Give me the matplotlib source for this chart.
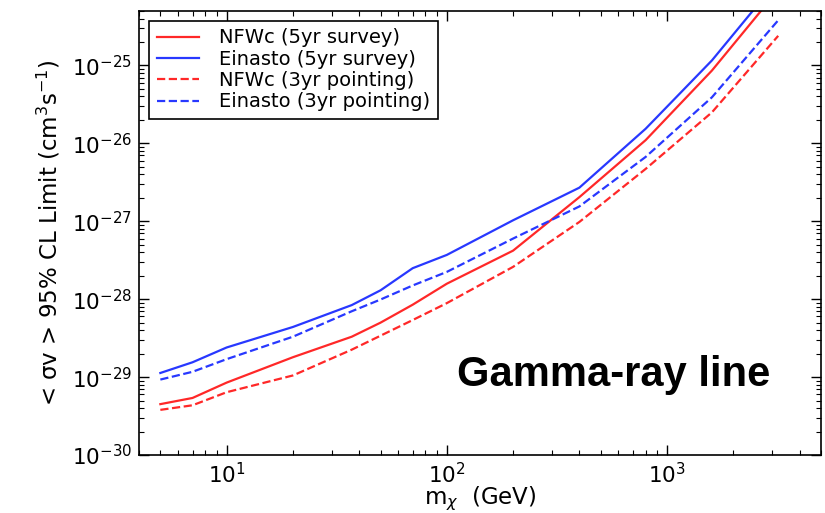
import matplotlib
matplotlib.use("Agg")
import matplotlib.pyplot as plt
import numpy as np

# dark matter mass grid (GeV)
mass = [5, 7, 10, 20, 37, 50, 70, 100, 200, 400, 800, 1600, 3200]

# 95% CL upper limits on <sigma v> (cm^3 s^-1)
nfwc_survey = [4.5e-30, 5.4e-30, 8.5e-30, 1.8e-29, 3.3e-29, 5.0e-29, 8.5e-29,
               1.58e-28, 4.2e-28, 2.04e-27, 1.1e-26, 8.6e-26, 9.3e-25]
einasto_survey = [1.13e-29, 1.55e-29, 2.4e-29, 4.4e-29, 8.4e-29, 1.3e-28, 2.5e-28,
                  3.7e-28, 1.03e-27, 2.7e-27, 1.54e-26, 1.16e-25, 1.25e-24]
nfwc_pointing = [3.8e-30, 4.35e-30, 6.4e-30, 1.05e-29, 2.25e-29, 3.4e-29, 5.4e-29,
                 8.9e-29, 2.6e-28, 9.8e-28, 4.7e-27, 2.5e-26, 2.4e-25]
einasto_pointing = [9.3e-30, 1.17e-29, 1.7e-29, 3.3e-29, 7.0e-29, 9.9e-29, 1.5e-28,
                    2.24e-28, 6.0e-28, 1.55e-27, 6.7e-27, 3.9e-26, 3.8e-25]

plt.rcParams['font.family'] = ['DejaVu Sans']
plt.rcParams['mathtext.fontset'] = 'dejavusans'

fig = plt.figure(figsize=(8.25, 5.13), dpi=100)
ax = fig.add_axes([0.1685, 0.113, 0.8265, 0.8656])

ax.plot(mass, nfwc_survey, color='#ff2828', lw=1.6, label='NFWc (5yr survey)')
ax.plot(mass, einasto_survey, color='#2838ff', lw=1.6, label='Einasto (5yr survey)')
ax.plot(mass, nfwc_pointing, color='#ff2828', lw=1.6, ls='--', label='NFWc (3yr pointing)')
ax.plot(mass, einasto_pointing, color='#2838ff', lw=1.6, ls='--', label='Einasto (3yr pointing)')

ax.set_xscale('log')
ax.set_yscale('log')
ax.set_xlim(4, 5000)
ax.set_ylim(1e-30, 5e-25)

ax.tick_params(which='both', direction='in', top=True, right=True, labelsize=15.5)
ax.tick_params(which='major', length=7, width=1, pad=5)
ax.tick_params(which='minor', length=3.5, width=0.8)
for s in ax.spines.values():
    s.set_linewidth(1.2)

ax.set_xlabel(r'm$_\chi$  (GeV)', fontsize=16.5, labelpad=-1.5)
ax.set_ylabel('< σv > 95% CL Limit (cm$^3$s$^{-1}$)', fontsize=16.5, labelpad=7)

leg = ax.legend(loc='upper left', fontsize=14, handlelength=2.2, handletextpad=1.0,
                labelspacing=0.12, fancybox=False, framealpha=1, borderaxespad=0.5,
                borderpad=0.4)
leg.get_frame().set_edgecolor('black')
leg.get_frame().set_linewidth(1.2)

ax.text(0.926, 0.18, 'Gamma-ray line', transform=ax.transAxes, ha='right', va='center',
        fontsize=30, fontweight='bold', family='Liberation Sans')

fig.savefig('out.png', dpi=100)
